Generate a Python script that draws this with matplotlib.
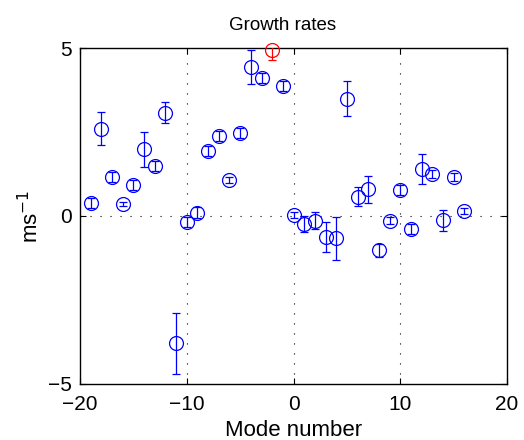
import matplotlib
matplotlib.use("Agg")
import matplotlib.pyplot as plt
import numpy as np

plt.rcParams['font.family'] = ['Liberation Sans', 'DejaVu Sans']

# Growth rate per mode (blue) with one-sigma uncertainties
modes = [-19, -18, -17, -16, -15, -14, -13, -12, -11, -10, -9, -8, -7, -6, -5,
         -4, -3, -1, 0, 1, 2, 3, 4, 5, 6, 7, 8, 9, 10, 11, 12, 13, 14, 15, 16]
rates = [0.40, 2.60, 1.15, 0.36, 0.93, 1.98, 1.50, 3.08, -3.79, -0.18, 0.10, 1.93,
         2.39, 1.06, 2.47, 4.43, 4.12, 3.86, 0.03, -0.24, -0.14, -0.63, -0.66,
         3.49, 0.58, 0.80, -1.02, -0.14, 0.78, -0.39, 1.39, 1.26, -0.13, 1.17, 0.15]
errors = [0.15, 0.50, 0.15, 0.06, 0.15, 0.53, 0.15, 0.31, 0.90, 0.15, 0.16, 0.15,
          0.15, 0.09, 0.16, 0.50, 0.15, 0.15, 0.10, 0.25, 0.26, 0.45, 0.64,
          0.52, 0.28, 0.40, 0.20, 0.10, 0.15, 0.15, 0.45, 0.12, 0.31, 0.12, 0.08]

# Highlighted mode (red)
peak_mode = [-2]
peak_rate = [4.93]
peak_error = [0.30]

x_ticks = [-20, -10, 0, 10, 20]
y_ticks = [-5, 0, 5]

fig = plt.figure(figsize=(5.24, 4.4), dpi=100)
ax = fig.add_axes([0.1527, 0.1273, 0.815, 0.7636])

ax.set_xlim(-20, 20)
ax.set_ylim(-5, 5)

# dotted grid on the interior tick positions
for xv in x_ticks[1:-1]:
    ax.axvline(xv, color='black', lw=0.8, linestyle=(0, (1, 8)), zorder=1)
for yv in y_ticks[1:-1]:
    ax.axhline(yv, color='black', lw=0.8, linestyle=(0, (1, 8)), zorder=1)

ax.errorbar(modes, rates, yerr=errors, fmt='o', color='#0000ff',
            mfc='none', mec='#0000ff', ms=10, mew=0.9, elinewidth=0.9,
            capsize=2.8, capthick=0.9, zorder=3)

ax.errorbar(peak_mode, peak_rate, yerr=peak_error, fmt='none', ecolor='#ff0000',
            elinewidth=0.9, capsize=2.8, capthick=0.9, zorder=3)
ax.plot(peak_mode, peak_rate, 'o', mfc='none', mec='#ff0000', ms=10, mew=0.9,
        clip_on=False, zorder=4)

ax.set_xticks(x_ticks)
ax.set_yticks(y_ticks)
ax.set_xticklabels(['\u221220', '\u221210', '0', '10', '20'])
ax.set_yticklabels(['\u22125', '0', '5'])
ax.tick_params(direction='in', length=4, width=0.8, top=True, right=True,
               labelsize=15)
ax.tick_params(axis='x', pad=8)
ax.tick_params(axis='y', pad=6)
for sp in ax.spines.values():
    sp.set_linewidth(1.0)

ax.set_title('Growth rates', fontsize=13.5, pad=13, x=0.474)
ax.set_xlabel('Mode number', fontsize=16, labelpad=4)
ax.set_ylabel('ms$^{-1}$', fontsize=16, labelpad=3)

fig.savefig('out.png', dpi=100)
